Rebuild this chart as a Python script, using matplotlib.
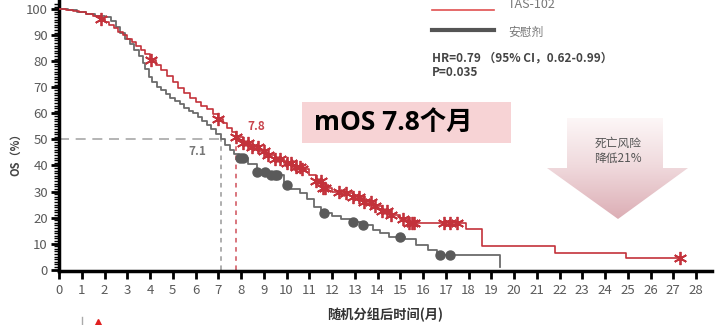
import matplotlib.pyplot as plt
import numpy as np
from matplotlib.patches import Polygon, Rectangle
from matplotlib.colors import LinearSegmentedColormap

plt.rcParams['font.family'] = ['Noto Sans CJK SC', 'DejaVu Sans']

# Kaplan-Meier steps, TAS-102 arm
t_red = [0, 0.3, 0.6, 0.9, 1.2, 1.5, 1.8, 2.0, 2.2, 2.4, 2.6, 2.8, 3.0, 3.2, 3.4,
         3.6, 3.8, 4.0, 4.25, 4.5, 4.75, 5.0, 5.25, 5.5, 5.75, 6.0, 6.25, 6.5,
         6.75, 7.0, 7.2, 7.4, 7.6, 7.8, 8.1, 8.4, 8.8, 9.1, 9.5, 9.9, 10.3, 10.7,
         11.0, 11.3, 11.6, 12.0, 12.4, 12.9, 13.4, 13.8, 14.2, 14.6, 15.0, 15.4,
         17.9, 18.6, 21.8, 24.9, 27.4]
s_red = [100, 99.7, 99.3, 98.8, 98.2, 97.3, 96.3, 95, 93.8, 92.6, 91.4, 90.1, 88.7,
         87.3, 85.8, 84.2, 82.6, 80.5, 78.5, 76.5, 74.2, 72, 69.8, 67.8, 66, 64.5,
         63, 61.5, 59.8, 58, 56.3, 54.5, 52.8, 51, 48.5, 47, 45.5, 44, 42.5, 41,
         39.5, 38.5, 36.5, 34, 31.5, 30, 29.5, 28, 26, 24.5, 22.5, 21, 19.5, 18,
         15.7, 9, 6.5, 4.5, 4.5]
cens_red = [1.85, 4.05, 7.0, 7.8, 8.1, 8.3, 8.5, 8.75, 9.0, 9.2, 9.5, 9.7, 10.0,
            10.2, 10.4, 10.6, 10.7, 11.3, 11.5, 11.6, 11.7, 12.3, 12.6, 12.9, 13.2,
            13.4, 13.7, 13.9, 14.2, 14.4, 14.6, 15.1, 15.4, 15.5, 15.6, 16.9, 17.2,
            17.5, 27.3]

# placebo arm
t_gray = [0, 0.4, 0.8, 1.2, 1.6, 2.0, 2.3, 2.5, 2.7, 2.9, 3.1, 3.3, 3.5, 3.7, 3.8,
          3.95, 4.1, 4.3, 4.5, 4.7, 4.9, 5.1, 5.3, 5.5, 5.7, 5.9, 6.1, 6.3, 6.5,
          6.7, 6.9, 7.1, 7.3, 7.5, 7.7, 7.9, 8.3, 8.7, 9.3, 9.9, 10.2, 10.6, 10.9,
          11.2, 11.5, 12.0, 12.4, 12.8, 13.3, 13.8, 14.1, 14.5, 15.2, 15.7, 16.2,
          16.6, 19.4]
s_gray = [100, 99.5, 99, 98.3, 97.5, 97, 95.5, 93, 91, 88.5, 86.5, 84.5, 82, 79.5,
          77, 74, 72, 70, 68.8, 67.5, 66, 64.8, 63.5, 62, 61, 60, 58.5, 57, 55.5,
          54, 52, 50, 48, 46, 44.5, 43, 40.5, 37.5, 36.5, 32.5, 31, 29.5, 27, 24,
          21.8, 20.5, 19.5, 18.4, 17.2, 15.3, 14, 12.6, 11.9, 9.6, 7.7, 5.7, 1]
cens_gray = [7.95, 8.1, 8.7, 9.05, 9.3, 9.5, 9.6, 10.0, 11.65, 12.9, 13.35, 15.0,
             16.75, 17.2]

median_gray = 7.1
median_red = 7.8
x_ticks = list(range(0, 29))
y_ticks = list(range(0, 101, 10))

red = '#c3323b'
gray = '#6b6b6b'
tick_gray = '#5a5a5a'


def at(t, s, x):
    i = np.searchsorted(t, x, side='right') - 1
    return np.asarray(s)[i]


fig = plt.figure(figsize=(7.16, 3.25), dpi=100)
ax = fig.add_axes([59 / 716, 54 / 325, 653 / 716, 271 / 325])

ax.step(t_gray, s_gray, where='post', color=gray, lw=1.3, zorder=3)
ax.step(t_red, s_red, where='post', color=red, lw=1.2, zorder=4)
ax.plot(cens_gray, at(t_gray, s_gray, cens_gray), 'o', color='#5a5a5a', ms=6.5,
        zorder=5)
ax.plot(cens_red, at(t_red, s_red, cens_red), ls='none', marker=(6, 2, 0),
        color=red, ms=9.5, mew=1.3, zorder=6)

# median lines
ax.plot([0, median_gray], [50, 50], ls=(0, (6, 4)), color='#a8a8a8', lw=1.2)
ax.plot([median_gray, median_gray], [0, 50], ls=(0, (3, 3)), color='#999999', lw=1.1)
ax.plot([median_red, median_red], [0, 50], ls=(0, (3, 3)), color='#d0505a', lw=1.1)
ax.text(median_gray - 1.0, 45.5, '7.1', color='#777777', fontsize=8.5,
        ha='center', va='center', fontweight='bold')
ax.text(median_red + 0.85, 55, '7.8', color='#c8444c', fontsize=8.5,
        ha='center', va='center', fontweight='bold')

ax.set_xlim(0, 28.7)
ax.set_ylim(-0.5, 103.5)
ax.set_xticks(x_ticks)
ax.set_yticks(y_ticks)
ax.set_yticks(np.arange(0, 103, 1), minor=True)
ax.tick_params(axis='x', length=6, width=2, color='black', labelcolor=tick_gray,
               labelsize=9.5, pad=3)
ax.tick_params(axis='y', which='major', length=6, width=2, color='black',
               labelcolor=tick_gray, labelsize=9.5, pad=2)
ax.tick_params(axis='y', which='minor', length=3.5, width=1, color='black')
for side in ['top', 'right']:
    ax.spines[side].set_visible(False)
for side in ['left', 'bottom']:
    ax.spines[side].set_linewidth(2.5)
ax.set_ylabel('OS（%）', fontsize=8, color='#444444', fontweight='bold')
ax.yaxis.set_label_coords(-0.057, 0.44)
ax.set_xlabel('随机分组后时间(月)', fontsize=9.5, color='#333333', fontweight='bold',
              labelpad=8)

# overlay in pixel coordinates for legend, notes and the arrow
ov = fig.add_axes([0, 0, 1, 1], zorder=10)
ov.axis('off')

ov.plot([432, 494], [10, 10], color='#e05050', lw=1.2)
ov.text(508, 5, 'TAS-102', color='#777777', fontsize=9, va='center')
ov.plot([432, 494], [30, 30], color='#555555', lw=3)
ov.text(508, 32, '安慰剂', color='#777777', fontsize=8.5, va='center')
ov.text(432, 58, 'HR=0.79 （95% CI，0.62-0.99）', color='#444444', fontsize=8.5,
        va='center', fontweight='bold')
ov.text(432, 73, 'P=0.035', color='#444444', fontsize=8.5, va='center',
        fontweight='bold')

ov.add_patch(Rectangle((302, 102), 209, 41, color='#f7d3d5', lw=0))
ov.text(314, 122, 'mOS 7.8个月', fontsize=19, fontweight='bold', color='black',
        va='center', family=['Open Sans', 'Noto Sans CJK SC'])

# gradient down arrow
arrow = Polygon([(567, 118), (663, 118), (663, 168), (688, 168), (618, 219),
                 (547, 168), (567, 168)], closed=True, facecolor='none',
                edgecolor='none')
ov.add_patch(arrow)
grad = np.linspace(0, 1, 200)[:, None]
cmap = LinearSegmentedColormap.from_list('pk', ['#fefafa', '#f0dadd', '#dcaeb5'])
img = ov.imshow(grad, cmap=cmap, extent=(547, 688, 219, 112), aspect='auto',
                zorder=1)
img.set_clip_path(arrow)
ov.text(618, 143, '死亡风险', color='#555555', fontsize=8.5, ha='center',
        va='center', zorder=2)
ov.text(618, 158, '降低21%', color='#555555', fontsize=8.5, ha='center',
        va='center', zorder=2)

ov.plot([82, 82], [317, 325], color='#aaaaaa', lw=1)
ov.plot([97.5], [322], marker='^', color='#e02020', ms=4)

ov.set_xlim(0, 716)
ov.set_ylim(325, 0)

fig.savefig('out.png', dpi=100)
